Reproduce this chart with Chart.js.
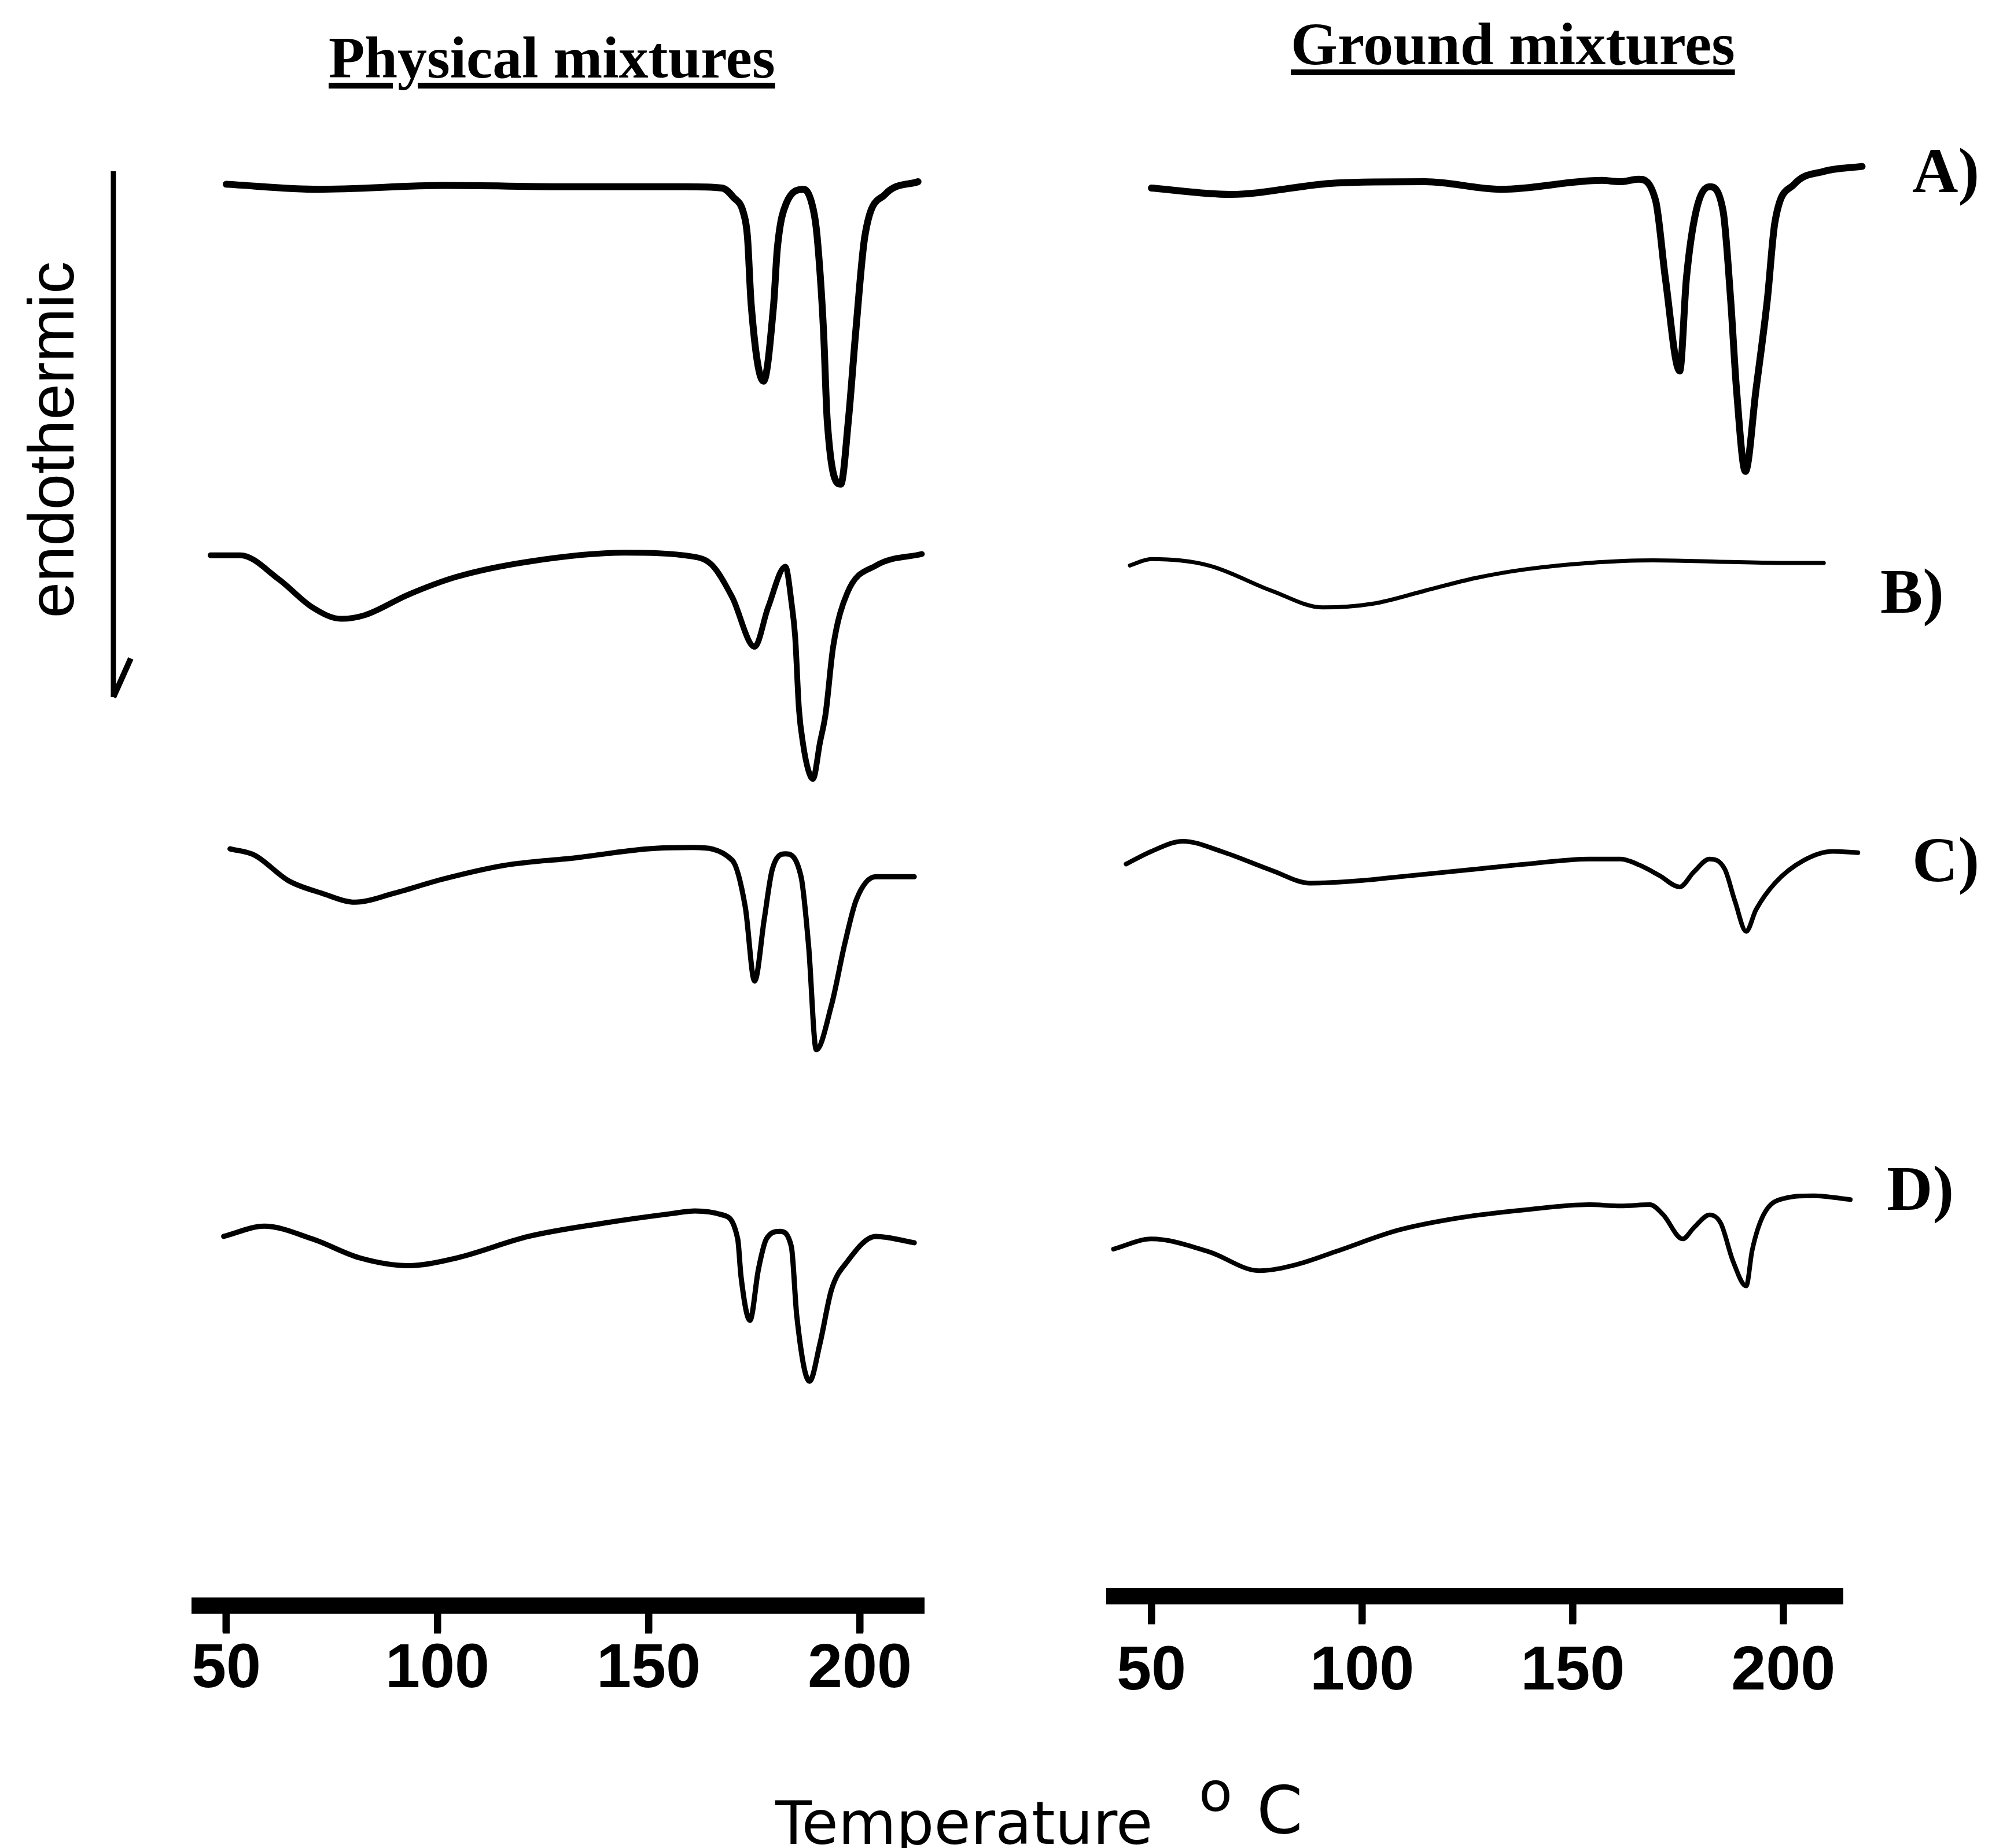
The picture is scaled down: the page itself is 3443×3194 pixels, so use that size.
<!DOCTYPE html>
<html>
<head>
<meta charset="utf-8">
<script src="https://cdn.jsdelivr.net/npm/chart.js@4.4.0/dist/chart.umd.min.js"></script>
<style>
  html, body { margin: 0; padding: 0; background: #fff; }
  #page { position: relative; width: 3443px; height: 3194px; overflow: hidden; background: #fff; }
  canvas { position: absolute; }
  .title { position: absolute; font-family: "Liberation Serif", "Times New Roman", serif; font-weight: bold;
           line-height: 1; white-space: nowrap; text-decoration: underline; text-decoration-thickness: 10px;
           text-underline-offset: 9px; color: #000; }
  .lab { position: absolute; font-family: "Liberation Serif", serif; font-weight: bold; font-size: 110px;
         line-height: 1; color: #000; }
  .sans { position: absolute; font-family: "DejaVu Sans", sans-serif; line-height: 1; color: #000; white-space: nowrap; }
  #endo { position: absolute; left: 89px; top: 760px; font-family: "Liberation Sans", Arial, sans-serif;
          font-size: 112px; line-height: 1; white-space: nowrap; transform: translate(-50%, -50%) rotate(-90deg); }
</style>
</head>
<body>
<div id="page">
  <div class="title" style="left:568px; top:49px; font-size:102px;">Physical mixtures</div>
  <div class="title" style="left:2231px; top:24px; font-size:104px;">Ground mixtures</div>

  <div id="endo">endothermic</div>
  <svg style="position:absolute; left:0; top:0;" width="300" height="1300">
    <line x1="196" y1="296" x2="196" y2="1205" stroke="#000" stroke-width="9"/>
    <line x1="196" y1="1205" x2="226" y2="1138" stroke="#000" stroke-width="10"/>
  </svg>

  <canvas id="phys" width="1550" height="2871" style="left:200px; top:100px; width:1550px; height:2871px;"></canvas>
  <canvas id="ground" width="1560" height="2911" style="left:1780px; top:84px; width:1560px; height:2911px;"></canvas>

  <div class="lab" style="left:3305px; top:240px;">A)</div>
  <div class="lab" style="left:3250px; top:967px;">B)</div>
  <div class="lab" style="left:3305px; top:1431px;">C)</div>
  <div class="lab" style="left:3261px; top:1999px;">D)</div>

  <div class="sans" style="left:1340px; top:3100px; font-size:103px;">Temperature</div>
  <div class="sans" style="left:2072px; top:3050px; font-size:95px;">o</div>
  <div class="sans" style="left:2172px; top:3072px; font-size:114px;">C</div>
</div>

<script>
const tickValues = [50, 100, 150, 200];
const traceLabels = ['A)', 'B)', 'C)', 'D)'];

// physical mixtures (temperature in C, signal in a.u., endothermic down)
const physA_T = [50, 71.9, 101.8, 131.7, 158.7, 167.4, 170, 172.5, 173.4, 174.3, 177.2, 179.6, 180.5, 182.6, 186.8, 189.0, 189.9, 191.4, 192.3, 195.5, 197.3, 199.1, 201.2, 206.0, 213.8];
const physA_Y = [2, -2, 1, 0, 0, -1, -8, -21, -39, -93, -153, -93, -48, -13, -2, -18, -39, -112, -184, -234, -184, -112, -39, -6, 4];

const physB_T = [46.3, 53.3, 62.5, 70.4, 77.2, 82.9, 93.1, 104.5, 121.6, 144.3, 160.5, 165.1, 169.8, 175.1, 178.3, 182.4, 183.9, 184.7, 185.6, 186.6, 187.8, 188.9, 190.6, 191.9, 193.7, 197.0, 203.9, 214.7];
const physB_Y = [-1, -1, -20, -42, -51, -48, -32, -18, -6, 1, -2, -9, -34, -73, -42, -10, -40, -65, -122, -150, -170, -177, -148, -126, -73, -31, -9, 0];

const physC_T = [50.9, 56.7, 64.7, 72.7, 80.5, 89.7, 101.1, 115.9, 132.9, 150.0, 160.6, 169.8, 172.9, 175.1, 177.4, 179.3, 182.4, 186.1, 187.9, 189.7, 193.3, 196.5, 199.2, 203.8, 212.9];
const physC_Y = [0, -5, -25, -35, -42, -35, -24, -13, -7, 0, 1, -9, -46, -104, -55, -16, -4, -22, -77, -158, -123, -74, -40, -22, -22];

const physD_T = [49.4, 59.0, 70.4, 81.7, 93.1, 104.5, 121.6, 138.5, 155.6, 161, 167.4, 171.1, 171.9, 174.0, 176.0, 177.9, 181.1, 183.8, 185.1, 188.1, 190.6, 193.3, 197.0, 203.8, 212.9];
const physD_Y = [-18, -10, -20, -35, -41, -35, -18, -8, 0, 2, -1, -20, -50, -84, -44, -20, -14, -26, -81, -132, -102, -60, -38, -18, -23];

// ground mixtures
const groundA_T = [50, 68.7, 94, 115, 133.1, 156.9, 161.4, 165.6, 169.7, 172.0, 175.4, 177.0, 179.3, 182.5, 185.7, 187.5, 188.9, 191.0, 193.5, 196.2, 198.0, 202.6, 209.5, 218.7];
const groundA_Y = [-3, -8, 1, 2, -4, 3, 2, 4, -13, -74, -147, -74, -21, -2, -21, -91, -162, -226, -162, -91, -30, 0, 10, 14];

const groundB_T = [44.9, 50, 63.6, 78.6, 90.7, 102.7, 114.8, 126.8, 138.9, 153.9, 169, 184, 199.1, 209.6];
const groundB_Y = [-2, 3, -2, -22, -35, -32, -22, -12, -5, 0, 2, 1, 0, 0];

const groundC_T = [44, 50, 57.5, 66.6, 78.6, 87.7, 99.7, 108.7, 123.8, 138.9, 153.9, 161.4, 166, 170.6, 175.4, 178.8, 182.5, 186.1, 188.5, 191.2, 193.5, 198, 204.9, 211.7, 217.7];
const groundC_Y = [-4, 6, 14, 6, -9, -19, -17, -14, -9, -4, 0, 0, -5, -13, -22, -10, 0, -8, -33, -57, -40, -19, -1, 6, 5];

const groundD_T = [41, 50, 63.6, 75.6, 84.6, 93.7, 108.7, 123.8, 138.9, 153.9, 161.4, 168.3, 171.5, 176.1, 178.8, 182.5, 185.2, 188, 191.2, 192.6, 195.3, 200.3, 207.2, 215.9];
const groundD_Y = [-35, -27, -37, -52, -47, -37, -20, -10, -4, 0, -1, 0, -8, -27, -18, -8, -15, -44, -64, -36, -8, 5, 7, 4];

// stacking of the curves and line widths
const physOffsets = [1116.7, 827.7, 595.7, 308.7];
const groundOffsets = [1111.4, 813.4, 580.4, 308.4];
const physWidths = [12, 10, 9, 9];
const groundWidths = [12, 7, 8, 8];

function toPoints(T, Y, off) {
  return T.map((t, i) => ({ x: t, y: Y[i] + off }));
}

// tick marks hanging under the thick axis line
const tickMarks = {
  id: 'tickMarks',
  afterDraw(chart) {
    const s = chart.scales.x;
    const ctx = chart.ctx;
    const y0 = chart.chartArea.bottom;
    ctx.save();
    ctx.fillStyle = '#000';
    tickValues.forEach(v => {
      const px = s.getPixelForValue(v);
      ctx.fillRect(px - 6, y0, 12, 48);
    });
    ctx.restore();
  }
};

function makeChart(id, traces, offsets, widths, xmin, xmax, pad, tickPad) {
  return new Chart(document.getElementById(id), {
    type: 'line',
    data: {
      datasets: traces.map((tr, i) => ({
        label: traceLabels[i],
        data: toPoints(tr[0], tr[1], offsets[i]),
        borderColor: '#000',
        borderWidth: widths[i],
        borderJoinStyle: 'round',
        borderCapStyle: 'round',
        pointRadius: 0,
        cubicInterpolationMode: 'monotone',
        fill: false,
        clip: false
      }))
    },
    options: {
      responsive: false,
      animation: false,
      devicePixelRatio: 1,
      events: [],
      layout: { padding: pad },
      plugins: { legend: { display: false }, tooltip: { enabled: false } },
      scales: {
        x: {
          type: 'linear',
          min: xmin,
          max: xmax,
          afterBuildTicks: s => { s.ticks = tickValues.map(v => ({ value: v })); },
          grid: { drawOnChartArea: false, drawTicks: true, tickLength: 46, tickWidth: 12, tickColor: '#000' },
          border: { display: true, width: 28, color: '#000' },
          ticks: {
            color: '#000',
            padding: tickPad,
            autoSkip: false,
            maxRotation: 0,
            font: { family: 'Liberation Sans', weight: 'bold', size: 108 }
          }
        },
        y: { display: false, min: 0, max: 1172.6 }
      }
    },
    plugins: [tickMarks]
  });
}

makeChart('phys',
  [[physA_T, physA_Y], [physB_T, physB_Y], [physC_T, physC_Y], [physD_T, physD_Y]],
  physOffsets, physWidths, 43.7, 215.2,
  { left: 145, right: 153, top: 100, bottom: 20 }, 0);

makeChart('ground',
  [[groundA_T, groundA_Y], [groundB_T, groundB_Y], [groundC_T, groundC_Y], [groundD_T, groundD_Y]],
  groundOffsets, groundWidths, 41.2, 214.1,
  { left: 146, right: 155, top: 100, bottom: 20 }, 20);
</script>
</body>
</html>
